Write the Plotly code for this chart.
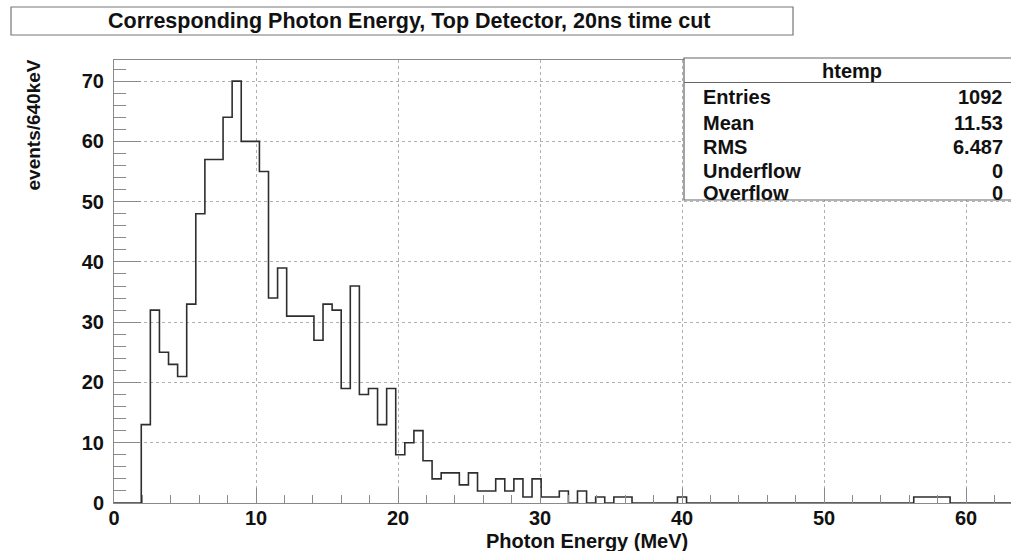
import plotly.graph_objects as go

# ---- data ----
bin_width = 0.64  # MeV
counts = [
    0, 0, 0, 13, 32, 25, 23, 21, 33, 48,
    57, 57, 64, 70, 60, 60, 55, 34, 39, 31,
    31, 31, 27, 33, 32, 19, 36, 18, 19, 13,
    19, 8, 10, 12, 7, 4, 5, 5, 3, 5,
    2, 2, 4, 2, 4, 1, 4, 1, 1, 2,
    0, 2, 0, 1, 0, 1, 1, 0, 0, 0,
    0, 0, 1, 0, 0, 0, 0, 0, 0, 0,
    0, 0, 0, 0, 0, 0, 0, 0, 0, 0,
    0, 0, 0, 0, 0, 0, 0, 0, 1, 1,
    1, 1, 0, 0, 0, 0, 0, 0, 0, 0,
]
x_ticks = [0, 10, 20, 30, 40, 50, 60]
y_ticks = [0, 10, 20, 30, 40, 50, 60, 70]
title_text = "Corresponding Photon Energy, Top Detector, 20ns time cut"
x_title = "Photon Energy (MeV)"
y_title = "events/640keV"
stats_name = "htemp"
stats_labels = ["Entries", "Mean", "RMS", "Underflow", "Overflow"]
stats_values = ["1092", "11.53", "6.487", "0", "0"]

edges = [i * bin_width for i in range(len(counts) + 1)]
y_step = counts + [counts[-1]]

W, H = 1011, 551
L, T, B = 114, 60, 48
plot_w = W - L
plot_h = H - T - B
px_per_unit = 14.2
x_max = plot_w / px_per_unit
y_max = max(counts) * 1.05


def px(xp):
    return (xp - L) / plot_w


def py(yp):
    return (H - B - yp) / plot_h


FONT = "Liberation Sans, Arial, Helvetica, sans-serif"
AXC = "#8a8a8a"

fig = go.Figure()
fig.add_trace(go.Scatter(
    x=edges, y=y_step, mode="lines", line=dict(color="#2e2e2e", width=1.6, shape="hv"),
    showlegend=False, hoverinfo="skip", cliponaxis=True,
))

fig.update_layout(
    width=W, height=H,
    margin=dict(l=L, r=0, t=T, b=B, pad=0),
    paper_bgcolor="white", plot_bgcolor="white",
    font=dict(family=FONT, color="#111"),
    showlegend=False,
)
fig.update_xaxes(
    range=[0, x_max], tickvals=x_ticks, ticktext=[str(v) for v in x_ticks],
    ticks="inside", ticklen=15, tickcolor=AXC, tickwidth=1,
    minor=dict(dtick=2, tick0=0, ticks="inside", ticklen=8, tickcolor=AXC, showgrid=False),
    showline=True, linecolor=AXC, linewidth=1, mirror=True,
    showgrid=True, gridcolor="#b0b0b0", griddash="dot", gridwidth=1,
    zeroline=False,
    tickfont=dict(size=20, family=FONT, weight="bold", color="#111"),
    ticklabelstandoff=-3,
)
fig.update_yaxes(
    range=[0, y_max], tickvals=y_ticks, ticktext=[str(v) for v in y_ticks],
    ticks="inside", ticklen=27, tickcolor=AXC, tickwidth=1,
    minor=dict(dtick=2, tick0=0, ticks="inside", ticklen=12, tickcolor=AXC, showgrid=False),
    showline=True, linecolor=AXC, linewidth=1, mirror=False,
    showgrid=True, gridcolor="#b0b0b0", griddash="dot", gridwidth=1,
    zeroline=False,
    tickfont=dict(size=20, family=FONT, weight="bold", color="#111"),
    ticklabelstandoff=5,
)

shapes = []
# title box
shapes.append(dict(type="rect", xref="paper", yref="paper",
                   x0=px(11), x1=px(793), y0=py(35), y1=py(7),
                   line=dict(color="#777", width=1.2), fillcolor="white", layer="above"))
# stats box
shapes.append(dict(type="rect", xref="paper", yref="paper",
                   x0=px(684), x1=px(W + 20), y0=py(200), y1=py(58),
                   line=dict(color="#666", width=1.2), fillcolor="white", layer="above"))
shapes.append(dict(type="line", xref="paper", yref="paper",
                   x0=px(684), x1=px(W + 20), y0=py(82.5), y1=py(82.5),
                   line=dict(color="#666", width=1.2), layer="above"))
fig.update_layout(shapes=shapes)

ann = []
ann.append(dict(text=title_text, xref="paper", yref="paper", x=px(409), y=py(21),
                xanchor="center", yanchor="middle", showarrow=False,
                font=dict(size=21.5, family=FONT, weight="bold", color="#111")))
ann.append(dict(text=stats_name, xref="paper", yref="paper", x=px(852), y=py(71),
                xanchor="center", yanchor="middle", showarrow=False,
                font=dict(size=20, family=FONT, weight="bold", color="#111")))
row_y = [97.5, 122.5, 146.5, 170.5, 192.5]
for lab, val, yy in zip(stats_labels, stats_values, row_y):
    ann.append(dict(text=lab, xref="paper", yref="paper", x=px(701), y=py(yy),
                    xanchor="left", yanchor="middle", showarrow=False,
                    font=dict(size=20, family=FONT, weight="bold", color="#111")))
    ann.append(dict(text=val, xref="paper", yref="paper", x=px(1005), y=py(yy),
                    xanchor="right", yanchor="middle", showarrow=False,
                    font=dict(size=20, family=FONT, weight="bold", color="#111")))
ann.append(dict(text=x_title, xref="paper", yref="paper", x=px(587), y=py(541),
                xanchor="center", yanchor="middle", showarrow=False,
                font=dict(size=20, family=FONT, weight="bold", color="#111")))
ann.append(dict(text=y_title, xref="paper", yref="paper", x=px(33), y=py(58),
                xanchor="center", yanchor="top", textangle=-90, showarrow=False,
                font=dict(size=19, family=FONT, weight="bold", color="#111")))
fig.update_layout(annotations=ann)

fig.write_html("out.html")
